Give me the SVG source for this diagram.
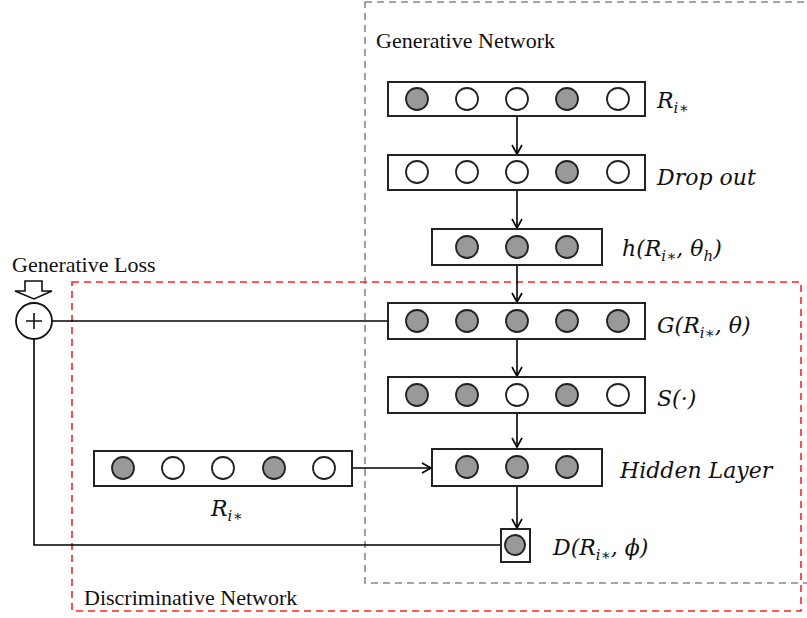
<svg xmlns="http://www.w3.org/2000/svg" width="807" height="618" viewBox="0 0 807 618">
  <defs>
    <marker id="arr" markerWidth="12" markerHeight="12" refX="10" refY="6" orient="auto" markerUnits="userSpaceOnUse">
      <path d="M1,1 L10,6 L1,11" fill="none" stroke="#000" stroke-width="1.6"/>
    </marker>
    <style>
      .layer { fill: #fff; stroke: #222; stroke-width: 2; }
      .on { fill: #999; stroke: #222; stroke-width: 1.8; }
      .off { fill: #fff; stroke: #222; stroke-width: 1.8; }
      .wire { fill: none; stroke: #000; stroke-width: 1.6; }
      .title { font-family: "Liberation Serif", serif; font-size: 22px; fill: #111; }
      .math { font-family: "DejaVu Serif", "Liberation Serif", serif; font-style: italic; font-size: 22px; fill: #111; }
      .sub { font-size: 15px; }
    </style>
  </defs>

  <!-- network regions -->
  <rect x="365" y="2" width="460" height="581" fill="none" stroke="#888" stroke-width="1.6" stroke-dasharray="7,5"/>
  <rect x="72" y="282" width="729" height="329" fill="none" stroke="#f22" stroke-width="1.6" stroke-dasharray="7,5"/>
  <text class="title" x="376" y="48">Generative Network</text>
  <text class="title" x="84" y="605">Discriminative Network</text>
  <text class="title" x="12" y="272">Generative Loss</text>

  <!-- connectors -->
  <g id="connectors">
    <line class="wire" x1="517" y1="117" x2="517" y2="154" marker-end="url(#arr)"/>
    <line class="wire" x1="517" y1="191" x2="517" y2="228" marker-end="url(#arr)"/>
    <line class="wire" x1="517" y1="265" x2="517" y2="302" marker-end="url(#arr)"/>
    <line class="wire" x1="517" y1="339" x2="517" y2="376" marker-end="url(#arr)"/>
    <line class="wire" x1="517" y1="413" x2="517" y2="447" marker-end="url(#arr)"/>
    <line class="wire" x1="517" y1="486" x2="517" y2="528" marker-end="url(#arr)"/>
    <line class="wire" x1="352" y1="468" x2="431" y2="468" marker-end="url(#arr)"/>
    <line class="wire" x1="52" y1="321" x2="387" y2="321"/>
    <polyline class="wire" points="34,339 34,545 500,545"/>
  </g>

  <!-- loss summation -->
  <g id="loss">
    <path d="M25,281 H42 V291 H52 L34,299 L15,291 H25 Z" fill="#fff" stroke="#111" stroke-width="1.6"/>
    <circle cx="34" cy="321" r="18" fill="#fff" stroke="#111" stroke-width="1.8"/>
    <path d="M26,321 H42 M34,313 V329" stroke="#111" stroke-width="1.6"/>
  </g>

  <!-- input R_i* -->
  <g id="input">
    <rect class="layer" x="388" y="82" width="257" height="34"/>
    <circle class="on" cx="417" cy="99" r="11"/>
    <circle class="off" cx="467" cy="99" r="11"/>
    <circle class="off" cx="517" cy="99" r="11"/>
    <circle class="on" cx="567" cy="99" r="11"/>
    <circle class="off" cx="618" cy="99" r="11"/>
    <text class="math" x="657" y="108">R<tspan class="sub" dy="5">i∗</tspan></text>
  </g>

  <!-- dropout -->
  <g id="dropout">
    <rect class="layer" x="388" y="155" width="257" height="35"/>
    <circle class="off" cx="417" cy="172" r="11"/>
    <circle class="off" cx="467" cy="172" r="11"/>
    <circle class="off" cx="517" cy="172" r="11"/>
    <circle class="on" cx="567" cy="172" r="11"/>
    <circle class="off" cx="618" cy="172" r="11"/>
    <text class="math" x="657" y="185">Drop out</text>
  </g>

  <!-- hidden h -->
  <g id="hidden-h">
    <rect class="layer" x="432" y="229" width="170" height="36"/>
    <circle class="on" cx="467" cy="247" r="11"/>
    <circle class="on" cx="517" cy="247" r="11"/>
    <circle class="on" cx="567" cy="247" r="11"/>
    <text class="math" x="622" y="256">h(R<tspan class="sub" dy="5">i∗</tspan><tspan dy="-5">, θ</tspan><tspan class="sub" dy="5">h</tspan><tspan dy="-5">)</tspan></text>
  </g>

  <!-- generator output -->
  <g id="generator">
    <rect class="layer" x="388" y="303" width="257" height="36"/>
    <circle class="on" cx="417" cy="321" r="11"/>
    <circle class="on" cx="467" cy="321" r="11"/>
    <circle class="on" cx="517" cy="321" r="11"/>
    <circle class="on" cx="567" cy="321" r="11"/>
    <circle class="on" cx="618" cy="321" r="11"/>
    <text class="math" x="657" y="333">G(R<tspan class="sub" dy="5">i∗</tspan><tspan dy="-5">, θ)</tspan></text>
  </g>

  <!-- sampling S -->
  <g id="sampling">
    <rect class="layer" x="388" y="377" width="257" height="36"/>
    <circle class="on" cx="417" cy="395" r="11"/>
    <circle class="on" cx="467" cy="395" r="11"/>
    <circle class="off" cx="517" cy="395" r="11"/>
    <circle class="on" cx="567" cy="395" r="11"/>
    <circle class="off" cx="618" cy="395" r="11"/>
    <text class="math" x="657" y="406">S(·)</text>
  </g>

  <!-- real input to discriminator -->
  <g id="real-input">
    <rect class="layer" x="94" y="451" width="258" height="35"/>
    <circle class="on" cx="123" cy="468" r="11"/>
    <circle class="off" cx="173" cy="468" r="11"/>
    <circle class="off" cx="223" cy="468" r="11"/>
    <circle class="on" cx="274" cy="468" r="11"/>
    <circle class="off" cx="324" cy="468" r="11"/>
    <text class="math" x="211" y="516">R<tspan class="sub" dy="5">i∗</tspan></text>
  </g>

  <!-- discriminator hidden layer -->
  <g id="hidden-layer">
    <rect class="layer" x="432" y="449" width="170" height="37"/>
    <circle class="on" cx="467" cy="467" r="11"/>
    <circle class="on" cx="517" cy="467" r="11"/>
    <circle class="on" cx="567" cy="467" r="11"/>
    <text class="math" x="620" y="478">Hidden Layer</text>
  </g>

  <!-- discriminator output -->
  <g id="discriminator">
    <rect class="layer" x="501" y="529" width="29" height="33"/>
    <circle class="on" cx="515" cy="545" r="10"/>
    <text class="math" x="553" y="555">D(R<tspan class="sub" dy="5">i∗</tspan><tspan dy="-5">, ϕ)</tspan></text>
  </g>
</svg>
